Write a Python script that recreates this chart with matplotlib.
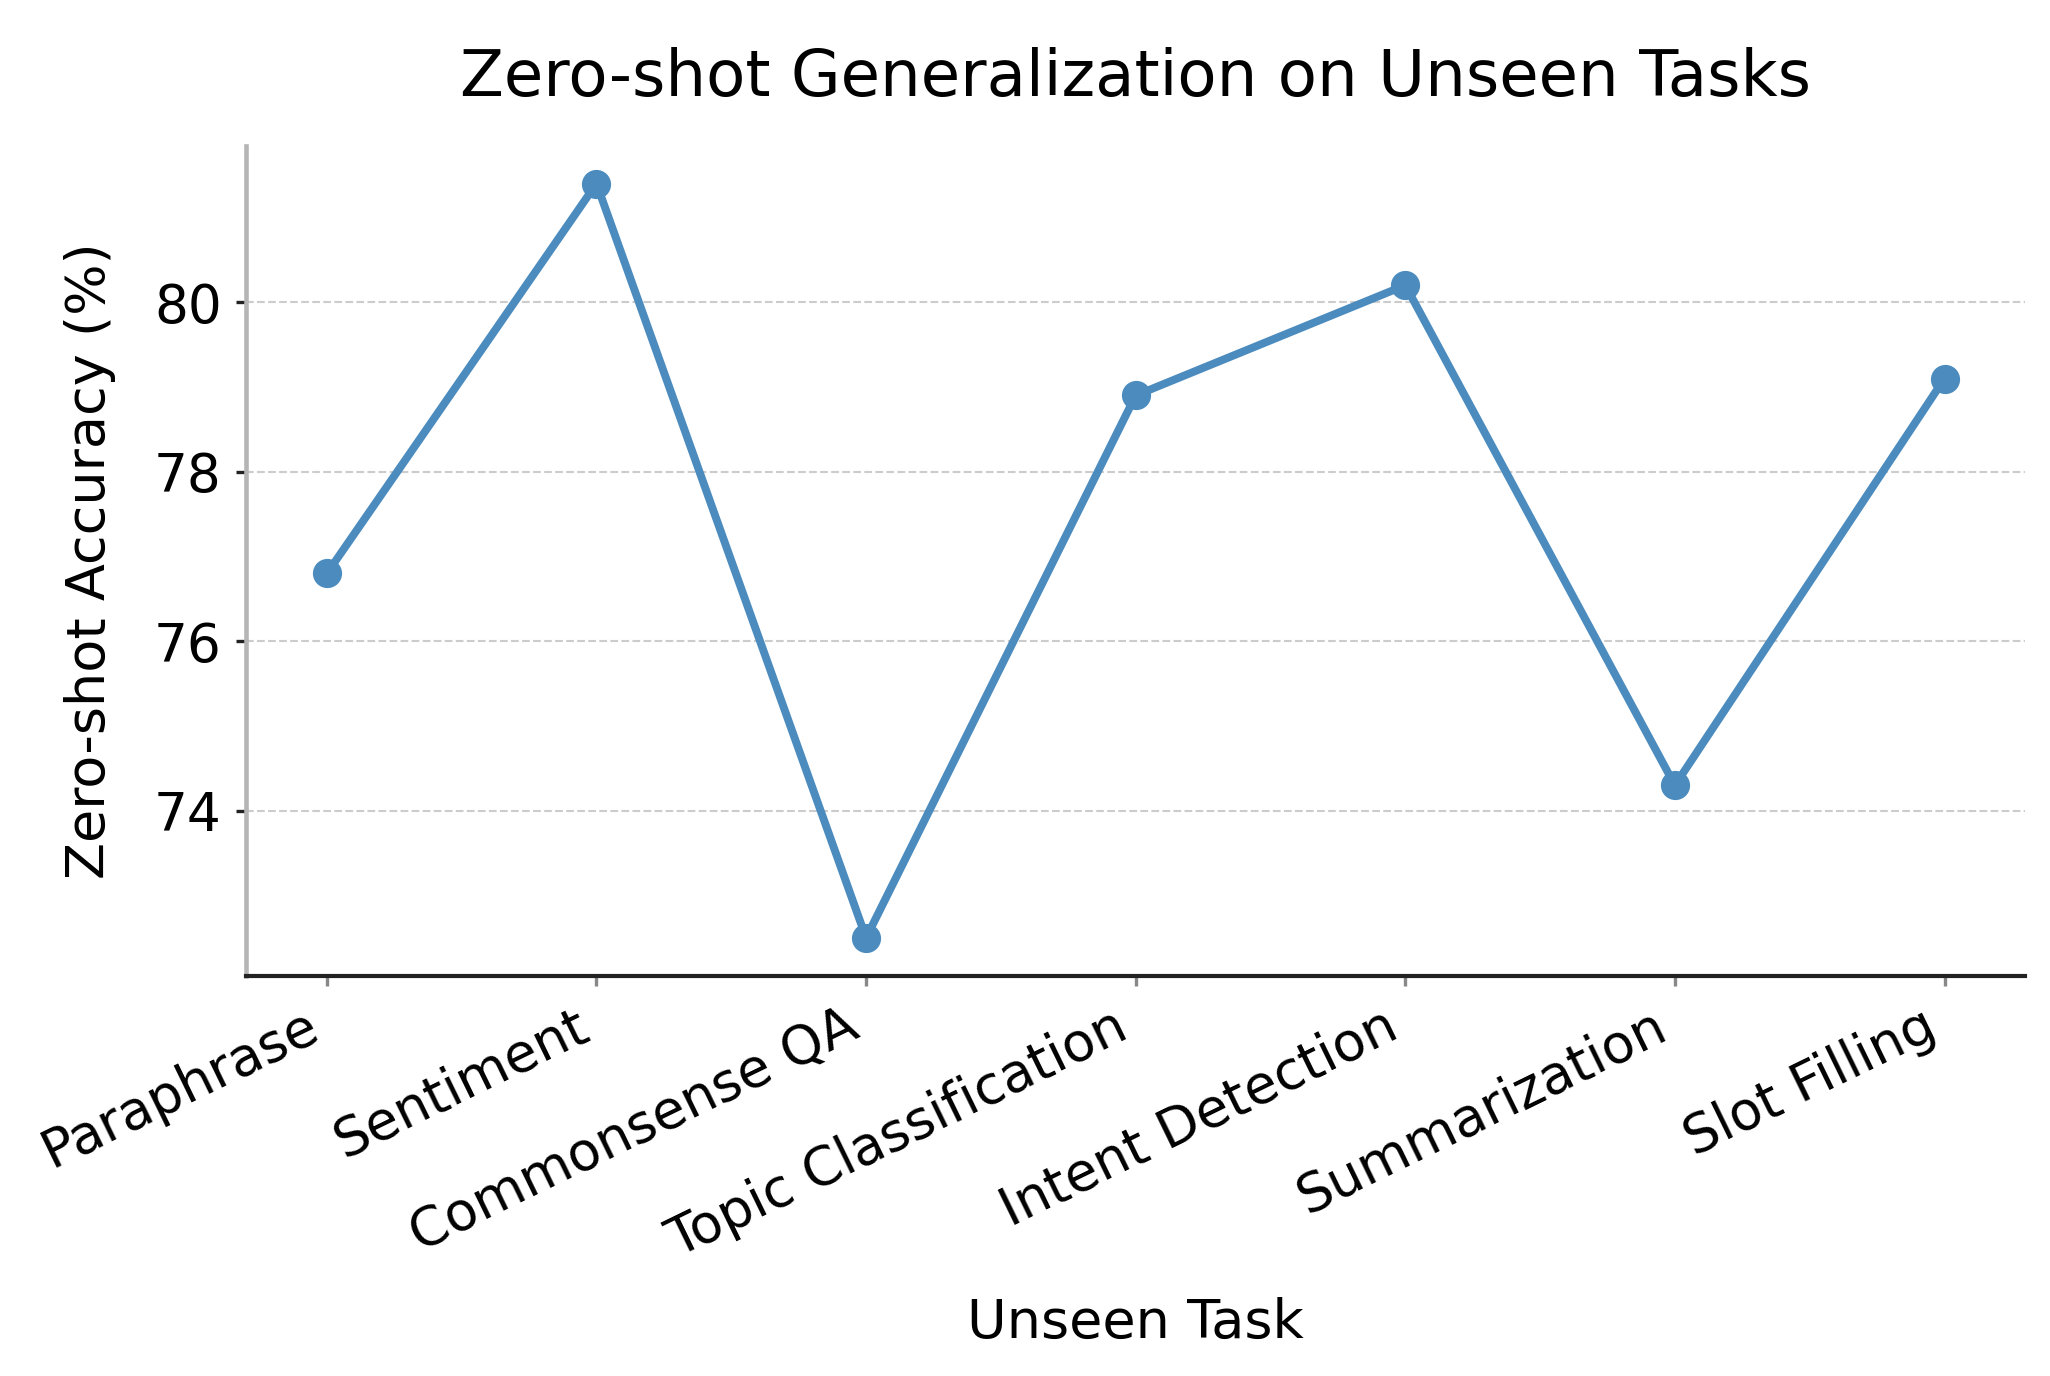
import matplotlib.pyplot as plt

# data
tasks = ['Paraphrase', 'Sentiment', 'Commonsense QA', 'Topic Classification',
         'Intent Detection', 'Summarization', 'Slot Filling']
accuracy = [76.8, 81.4, 72.5, 78.9, 80.2, 74.3, 79.1]
yticks = [74, 76, 78, 80]

plt.rcParams['font.family'] = 'DejaVu Sans'

fig, ax = plt.subplots(figsize=(2050 / 300, 1376 / 300), dpi=300)
fig.subplots_adjust(left=0.120, right=0.988, bottom=0.291, top=0.894)

x = list(range(len(tasks)))
ax.plot(x, accuracy, marker='o', linestyle='-', color='#4b8bbe',
        linewidth=1.9, markersize=6, zorder=3)

ax.set_title('Zero-shot Generalization on Unseen Tasks', fontsize=15.4, pad=12)
ax.set_xlabel('Unseen Task', fontsize=13, labelpad=7)
ax.set_ylabel('Zero-shot Accuracy (%)', fontsize=13, labelpad=9)

ax.set_xticks(x)
ax.set_xticklabels(tasks, rotation=26, ha='right')
ax.set_yticks(yticks)
ax.tick_params(axis='both', labelsize=12.8, length=2.3, width=0.8)
ax.tick_params(axis='x', color='#888888')
ax.tick_params(axis='y', color='#222222')

ax.grid(axis='y', linestyle='--', linewidth=0.5, color='#cccccc')
ax.set_axisbelow(True)

ax.spines['top'].set_visible(False)
ax.spines['right'].set_visible(False)
ax.spines['left'].set_color('#b5b5b5')
ax.spines['left'].set_linewidth(1.1)
ax.spines['bottom'].set_color('#222222')
ax.spines['bottom'].set_linewidth(1.0)

fig.savefig('out.png', dpi=300)
